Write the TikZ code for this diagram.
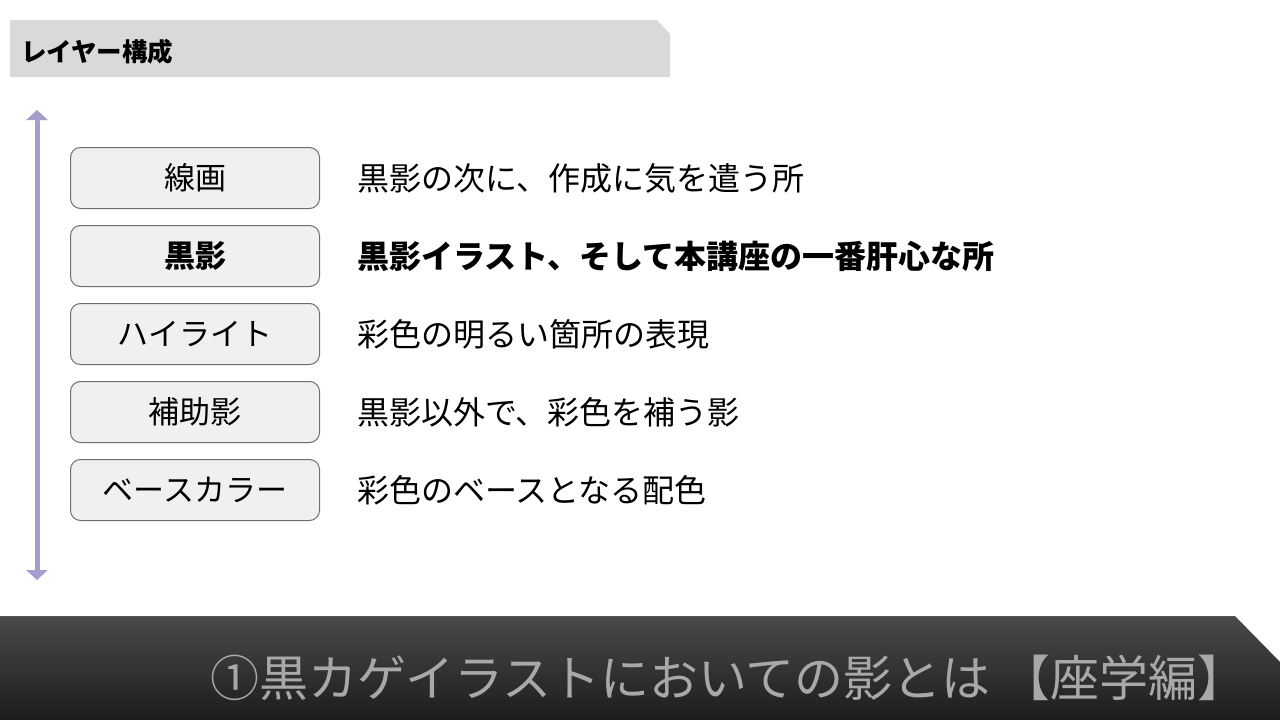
\documentclass[tikz,border=0pt]{standalone}
\usepackage{fontspec}
\setmainfont{Noto Sans CJK JP}
\usetikzlibrary{positioning,arrows.meta}

\definecolor{barlight}{RGB}{217,217,217}
\definecolor{layerarrow}{RGB}{166,156,208}
\definecolor{boxfill}{RGB}{240,240,240}
\definecolor{boxline}{RGB}{110,110,110}
\definecolor{titlegray}{RGB}{168,168,168}
\definecolor{bandtop}{RGB}{74,74,74}
\definecolor{bandbot}{RGB}{28,28,28}

\tikzset{
  layerbox/.style={draw=boxline, fill=boxfill, rounded corners=10pt, line width=1pt,
    minimum width=249pt, minimum height=61pt, inner sep=0pt,
    font=\fontsize{31}{35}\selectfont},
  layerdesc/.style={inner sep=0pt, anchor=west, font=\fontsize{32}{36}\selectfont},
}

\begin{document}
\begin{tikzpicture}[x=1pt,y=-1pt,node distance=16pt]
  \useasboundingbox (0,0) rectangle (1280,720);
  \fill[white] (0,0) rectangle (1280,720);
  % header bar
  \fill[barlight] (10,20) -- (657,20) -- (670,34) -- (670,77) -- (10,77) -- cycle;
  \node[anchor=west, inner sep=0pt, font=\fontsize{25.5}{28}\selectfont\bfseries] (header) at (21,52) {レイヤー構成};
  % arrow
  \coordinate (arrtop) at (37,110);
  \coordinate (arrbot) at (37,580);
  \draw[layerarrow, line width=5pt, {Triangle[width=21pt,length=10pt]}-{Triangle[width=21pt,length=10pt]}] (arrtop) -- (arrbot);
  % layers
  \node[layerbox, anchor=west] (line) at (70,178) {線画};
  \node[layerbox, below=of line, font=\fontsize{31}{35}\selectfont\bfseries] (black) {黒影};
  \node[layerbox, below=of black] (light) {ハイライト};
  \node[layerbox, below=of light] (aux) {補助影};
  \node[layerbox, below=of aux] (base) {ベースカラー};
  \node[layerdesc, right=37pt of line] (lined) {黒影の次に、作成に気を遣う所};
  \node[layerdesc, right=37pt of black, font=\fontsize{32}{36}\selectfont\bfseries] (blackd) {黒影イラスト、そして本講座の一番肝心な所};
  \node[layerdesc, right=37pt of light] (lightd) {彩色の明るい箇所の表現};
  \node[layerdesc, right=37pt of aux] (auxd) {黒影以外で、彩色を補う影};
  \node[layerdesc, right=37pt of base] (based) {彩色のベースとなる配色};
  % bottom band
  \shade[top color=bandtop, bottom color=bandbot] (0,616) -- (1235,616) -- (1280,662) -- (1280,720) -- (0,720) -- cycle;
  \draw[gray!70!black, line width=1pt] (0,616) -- (1235,616);
  \node[anchor=east, inner sep=0pt, text=titlegray, font=\fontsize{49}{53}\selectfont] (title) at (1247,678) {①黒カゲイラストにおいての影とは 【座学編】};
\end{tikzpicture}
\end{document}
